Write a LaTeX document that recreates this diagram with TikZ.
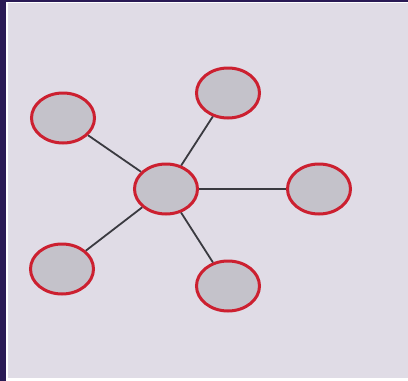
\documentclass[tikz,border=0pt]{standalone}
\usetikzlibrary{shapes.geometric}
\definecolor{bg}{HTML}{E0DCE6}
\definecolor{frame}{HTML}{2A1A55}
\definecolor{ring}{HTML}{CC2030}
\definecolor{fillc}{HTML}{C4C2CA}
\definecolor{edge}{HTML}{3A3A40}
\begin{document}
\begin{tikzpicture}[x=1pt,y=-1pt,
  nd/.style={ellipse,draw=ring,fill=fillc,line width=3pt,minimum width=63pt,minimum height=50pt,inner sep=0pt},
  ln/.style={draw=edge,line width=1.8pt}]
\useasboundingbox (0,0) rectangle (408,381);
\fill[frame] (0,0) rectangle (408,381);
\fill[white] (6,2) rectangle (408,381);
\fill[bg] (8,3) rectangle (408,378);
\node[nd] (c) at (166,189) {};
\node[nd] (tl) at (63,118) {};
\node[nd] (tr) at (228,93) {};
\node[nd] (r) at (319,189) {};
\node[nd] (bl) at (62,269) {};
\node[nd] (br) at (228,286) {};
\path[ln] (c) -- (tl);
\path[ln] (c) -- (tr);
\path[ln] (c) -- (r);
\path[ln] (c) -- (bl);
\path[ln] (c) -- (br);
\end{tikzpicture}
\end{document}
